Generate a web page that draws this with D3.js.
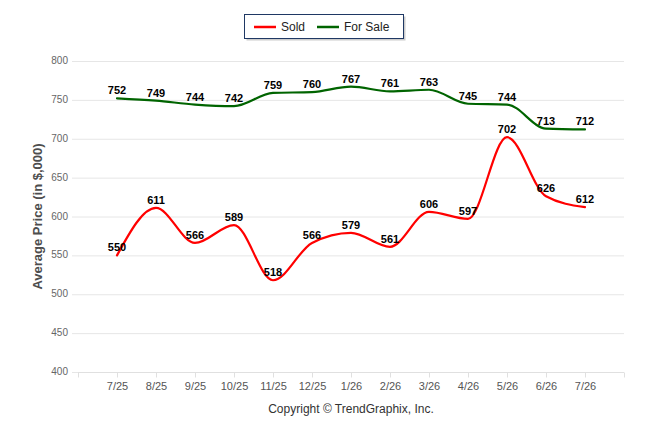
<!DOCTYPE html>
<html>
<head>
<meta charset="utf-8">
<script src="https://cdn.jsdelivr.net/npm/d3@7"></script>
<style>
  body { margin: 0; background: #fff; }
  svg { display: block; font-family: "Liberation Sans", Arial, sans-serif; }
  .grid line { stroke: #e6e6e6; }
  .y-axis text { fill: #666; font-size: 10px; }
  .x-axis text { fill: #555; font-size: 11px; }
  .x-axis line, .x-axis path { stroke: #e0e0e0; }
  .value { font-size: 11px; font-weight: bold; fill: #000; text-anchor: middle; }
</style>
</head>
<body>
<svg id="chart" width="646" height="434"></svg>
<script>
'use strict';

// Data
const months = ['7/25', '8/25', '9/25', '10/25', '11/25', '12/25', '1/26',
  '2/26', '3/26', '4/26', '5/26', '6/26', '7/26'];
const sold = [550, 611, 566, 589, 518, 566, 579, 561, 606, 597, 702, 626, 612];
const forSale = [752, 749, 744, 742, 759, 760, 767, 761, 763, 745, 744, 713, 712];
const yTicks = [400, 450, 500, 550, 600, 650, 700, 750, 800];

const series = [
  { name: 'Sold', color: '#ff0000', values: sold },
  { name: 'For Sale', color: '#006400', values: forSale }
];

const svg = d3.select('#chart');
const plot = { left: 78, right: 624, top: 61, bottom: 372 };

// index -1 and 13 are the empty slots at both ends of the axis
const x = d3.scaleLinear().domain([-1, months.length]).range([plot.left, plot.right]);
const y = d3.scaleLinear().domain([400, 800]).range([plot.bottom, plot.top]);

// Grid
svg.append('g')
  .attr('class', 'grid')
  .selectAll('line')
  .data(yTicks)
  .enter()
  .append('line')
    .attr('x1', 72)
    .attr('x2', plot.right)
    .attr('y1', d => y(d) + 0.5)
    .attr('y2', d => y(d) + 0.5);

// Y labels
svg.append('g')
  .attr('class', 'y-axis')
  .selectAll('text')
  .data(yTicks)
  .enter()
  .append('text')
    .attr('x', 68)
    .attr('y', d => y(d) + 3)
    .attr('text-anchor', 'end')
    .text(d => d);

// X axis
const xAxis = d3.axisBottom(x)
  .tickValues(d3.range(-1, months.length + 1))
  .tickSize(5)
  .tickPadding(5)
  .tickFormat(i => months[i] || '');

svg.append('g')
  .attr('class', 'x-axis')
  .attr('transform', 'translate(0,' + (plot.bottom + 0.5) + ')')
  .call(xAxis)
  .call(g => g.select('.domain').attr('d', 'M' + plot.left + ',0H' + plot.right));

// Lines
const line = d3.line()
  .x((d, i) => x(i))
  .y(d => y(d))
  .curve(d3.curveMonotoneX);

svg.append('g')
  .selectAll('path')
  .data(series)
  .enter()
  .append('path')
    .attr('d', s => line(s.values))
    .attr('fill', 'none')
    .attr('stroke', s => s.color)
    .attr('stroke-width', 2.2)
    .attr('stroke-linejoin', 'round')
    .attr('stroke-linecap', 'round');

// Value labels
series.forEach(s => {
  svg.append('g')
    .selectAll('text')
    .data(s.values)
    .enter()
    .append('text')
      .attr('class', 'value')
      .attr('x', (d, i) => x(i))
      .attr('y', d => y(d) - 4)
      .text(d => d);
});

// Y title
svg.append('text')
  .attr('transform', 'translate(42,' + ((plot.top + plot.bottom) / 2) + ') rotate(-90)')
  .attr('text-anchor', 'middle')
  .attr('font-size', '13px')
  .attr('font-weight', 'bold')
  .attr('fill', '#4d4d4d')
  .text('Average Price (in $,000)');

// Copyright
svg.append('text')
  .attr('x', 351)
  .attr('y', 413)
  .attr('text-anchor', 'middle')
  .attr('font-size', '12px')
  .attr('fill', '#333')
  .text('Copyright \u00a9 TrendGraphix, Inc.');

// Legend
const legend = svg.append('g').attr('class', 'legend');
legend.append('rect')
  .attr('x', 246.5).attr('y', 16.5)
  .attr('width', 159).attr('height', 24)
  .attr('fill', '#999').attr('opacity', 0.5);
legend.append('rect')
  .attr('x', 244.5).attr('y', 14.5)
  .attr('width', 159).attr('height', 24)
  .attr('fill', '#fff')
  .attr('stroke', '#1f3864');

const legendItems = legend.selectAll('.item')
  .data(series)
  .enter()
  .append('g')
    .attr('class', 'item')
    .attr('transform', (d, i) => 'translate(' + (254 + i * 63) + ',27)');

legendItems.append('line')
  .attr('x1', 0).attr('x2', 22)
  .attr('stroke', d => d.color)
  .attr('stroke-width', 2.5);

legendItems.append('text')
  .attr('x', 27)
  .attr('y', 4)
  .attr('font-size', '12px')
  .attr('fill', '#222')
  .text(d => d.name);
</script>
</body>
</html>
